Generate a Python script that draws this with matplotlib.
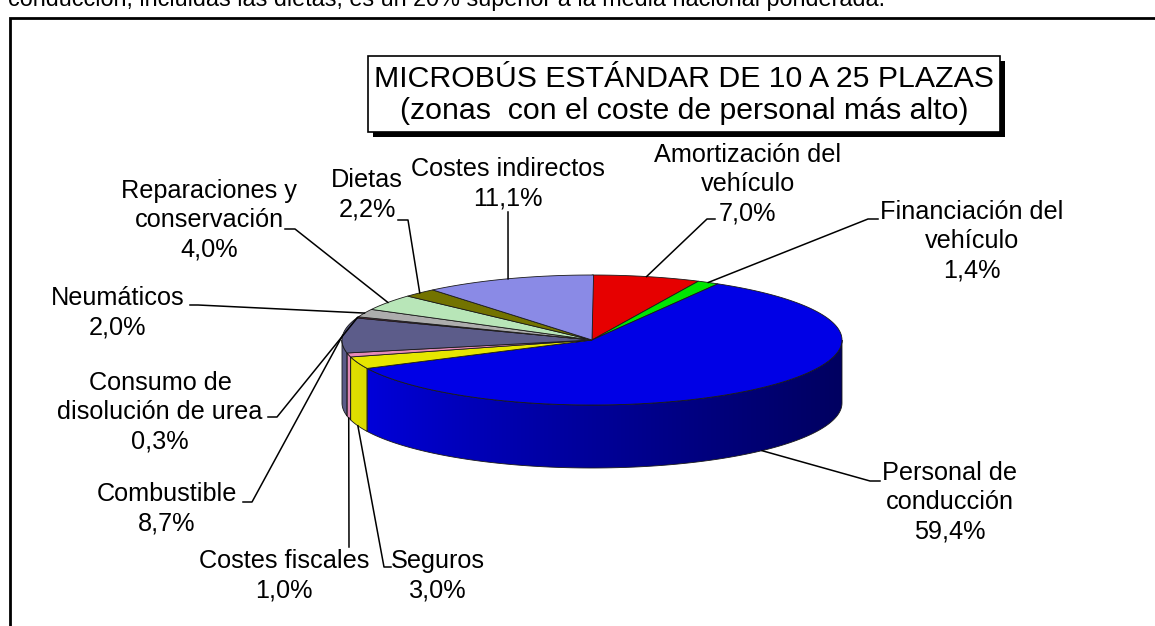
import numpy as np
import matplotlib
matplotlib.use("Agg")
import matplotlib.pyplot as plt
from matplotlib.patches import Polygon, Rectangle
from matplotlib.colors import to_rgb

# ---------------- data ----------------
categories = ["Amortización del\nvehículo", "Financiación del\nvehículo",
              "Personal de\nconducción", "Seguros", "Costes fiscales",
              "Combustible", "Consumo de\ndisolución de urea", "Neumáticos",
              "Reparaciones y\nconservación", "Dietas", "Costes indirectos"]
values = [7.0, 1.4, 59.4, 3.0, 1.0, 8.7, 0.3, 2.0, 4.0, 2.2, 11.1]
pct_labels = ["7,0%", "1,4%", "59,4%", "3,0%", "1,0%", "8,7%", "0,3%",
              "2,0%", "4,0%", "2,2%", "11,1%"]
base_colors = ["#FF0000", "#00FF00", "#0000FF", "#FFFF00", "#FF99CC",
               "#666699", "#993366", "#C0C0C0", "#CCFFCC", "#808000", "#9999FF"]
title_text = "MICROBÚS ESTÁNDAR DE 10 A 25 PLAZAS\n(zonas  con el coste de personal más alto)"
heading = "conducción, incluidas las dietas, es un 20% superior a la media nacional ponderada."

# ---------------- layout (pixels) ----------------
W, H = 1155, 626
cx, cy, rx, ry, depth = 592, 340, 250, 65, 63
# label block centers and leader attachment points
label_pos = [(748, 184), (972, 241), (950, 502), (438, 576), (284, 576),
             (167, 509), (160, 412), (118, 313), (209, 220), (367, 195), (508, 184)]
leader_knee = [[(707, 219), (715, 219)], [(868, 219), (878, 219)],
               [(870, 481), (880, 481)], [(384, 567), (391, 567)],
               [(349, 547)], [(252, 502), (243, 502)], [(277, 417), (268, 417)],
               [(198, 305), (190, 305)], [(295, 229), (285, 229)],
               [(408, 220), (398, 220)], [(508, 212)]]

FONT = "Liberation Sans"
fig = plt.figure(figsize=(W / 100, H / 100), dpi=100)
ax = fig.add_axes([0, 0, 1, 1])
ax.set_xlim(0, W)
ax.set_ylim(H, 0)
ax.axis("off")

# heading (cut off at the top, as in the source page)
ax.text(8, 6, heading, fontsize=16.8, family=FONT, ha="left", va="baseline",
        color="black")
# outer frame
ax.plot([10, 10, W + 5], [H + 5, 18, 18], color="black", lw=2, solid_joinstyle="miter")

# title box with shadow
ax.add_patch(Rectangle((373, 61), 632, 76, facecolor="black", edgecolor="none", zorder=5))
ax.add_patch(Rectangle((368, 56), 632, 76, facecolor="white", edgecolor="black",
                       lw=1.2, zorder=6))
ax.text(684, 95, title_text, fontsize=21.8, family=FONT, ha="center", va="center",
        linespacing=1.2, zorder=7)

# ---------------- 3D pie ----------------
vals = np.array(values)
cum = np.concatenate([[0], np.cumsum(vals)])
ang = 90 - 3.6 * cum  # degrees, clockwise from 12 o'clock


def pt(theta_deg, dz=0.0):
    t = np.radians(theta_deg)
    return cx + rx * np.cos(t), cy - ry * np.sin(t) + dz


def shade(x):
    t = np.clip((x - (cx - rx)) / (2 * rx), 0, 1)
    return 1 - 0.58 * t ** 0.8


xs_grad = np.linspace(cx - rx, cx + rx, 400)
for i, c in enumerate(base_colors):
    a1, a2 = ang[i], ang[i + 1]  # a1 > a2
    lo, hi = a2, a1
    segs = []
    for off in (-360, 0, 360):
        s_lo, s_hi = max(lo + off, -180), min(hi + off, 0)
        if s_hi > s_lo:
            segs.append((s_lo, s_hi))
    for s_lo, s_hi in segs:
        th = np.linspace(s_hi, s_lo, 120)
        top = np.array([pt(t) for t in th])
        bot = np.array([pt(t, depth) for t in th[::-1]])
        poly = np.vstack([top, bot])
        rgb = np.array(to_rgb(c)) * 0.9
        img = np.array([[rgb * shade(x) for x in xs_grad]])
        im = ax.imshow(img, extent=(cx - rx, cx + rx, cy + ry + depth + 2, cy - 2),
                       aspect="auto", zorder=2, interpolation="bilinear")
        p = Polygon(poly, closed=True, facecolor="none", edgecolor="#1a1a1a",
                    lw=0.6, zorder=3)
        ax.add_patch(p)
        im.set_clip_path(p)

for i, c in enumerate(base_colors):
    th = np.linspace(ang[i], ang[i + 1], max(3, int(abs(ang[i] - ang[i + 1]) * 2)))
    arc = np.array([pt(t) for t in th])
    poly = np.vstack([[cx, cy], arc])
    rgb = np.array(to_rgb(c)) * 0.9
    ax.add_patch(Polygon(poly, closed=True, facecolor=rgb, edgecolor="#1a1a1a",
                         lw=0.6, zorder=4))

# ---------------- labels & leaders ----------------
for i in range(len(values)):
    mid = (ang[i] + ang[i + 1]) / 2
    s = np.sin(np.radians(mid))
    anchor = pt(mid, depth if s < 0 else 0)
    pts = [anchor] + leader_knee[i]
    xs, ys = zip(*pts)
    ax.plot(xs, ys, color="black", lw=1.1, zorder=8)
    lx, ly = label_pos[i]
    ax.text(lx, ly, categories[i] + "\n" + pct_labels[i], fontsize=18.2,
            family=FONT, ha="center", va="center", multialignment="center",
            linespacing=1.28, zorder=9)

fig.savefig("out.png", dpi=100)
